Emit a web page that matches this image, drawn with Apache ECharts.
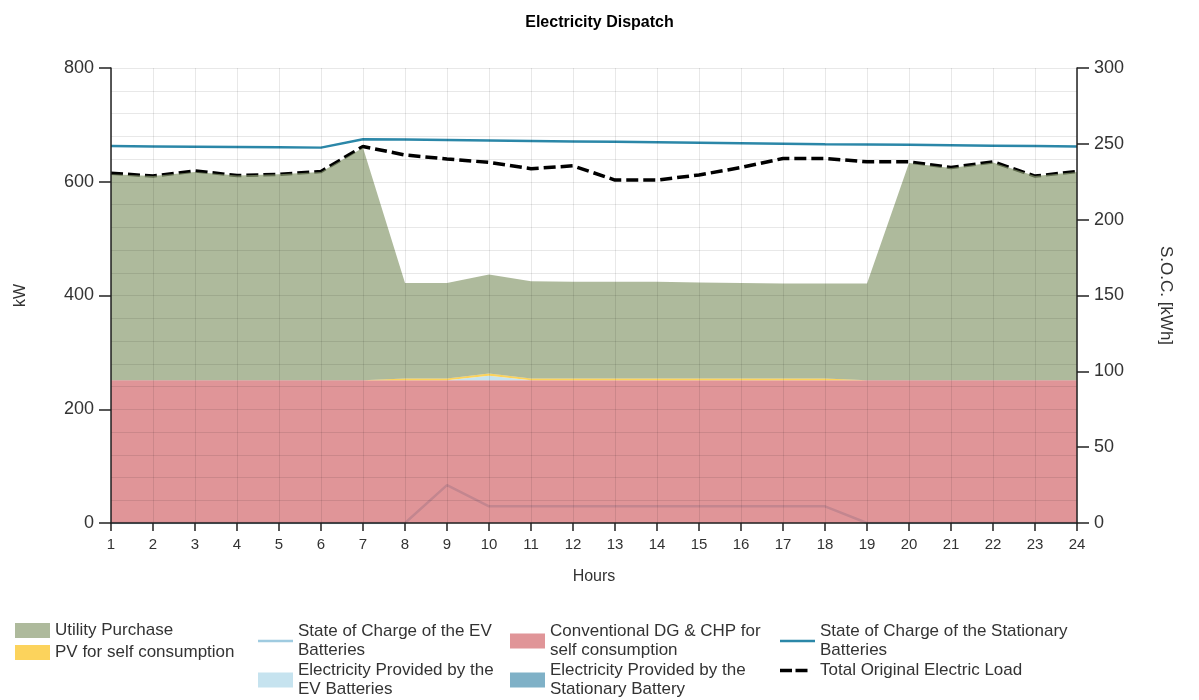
<!DOCTYPE html>
<html>
<head>
<meta charset="utf-8">
<title>Electricity Dispatch</title>
<script src="https://cdn.jsdelivr.net/npm/echarts@6/dist/echarts.min.js"></script>
<style>
  html, body { margin: 0; padding: 0; background: #ffffff; }
  #chart { width: 1199px; height: 700px; }
</style>
</head>
<body>
<div id="chart"></div>
<script>
// Hours of the day on the x axis
const hours = ['1','2','3','4','5','6','7','8','9','10','11','12','13','14','15','16','17','18','19','20','21','22','23','24'];

// Dispatch (kW), stacked from the bottom up
const dgChp = [251,251,251,251,251,251,251,251,251,251,251,251,251,251,251,251,251,251,251,251,251,251,251,251];
const evProvided = [0,0,0,0,0,0,0,0,0,8,0,0,0,0,0,0,0,0,0,0,0,0,0,0];
const pvSelf = [0,0,0,0,0,0,0,3,3,4,3,3,3,3,3,3,3,3,0,0,0,0,0,0];
const stationaryProvided = [0,0,0,0,0,0,0,0,0,0,0,0,0,0,0,0,0,0,0,0,0,0,0,0];
const utilityPurchase = [362,359,366,360,362,366,409,168,168,174,171,170,170,170,169,168,167,167,170,382,373,383,359,366];

// Total original electric load (kW)
const totalLoad = [615,610,619,611,613,618,662,647,640,634,623,628,603,603,612,625,641,641,635,635,625,635,610,618];

// States of charge (kWh, right axis)
const evSoc = [0,0,0,0,0,0,0,0,25,11,11,11,11,11,11,11,11,11,0,0,0,0,0,0];
const stationarySoc = [248.5,248.3,248.1,247.9,247.7,247.5,253,252.8,252.5,252.2,251.9,251.6,251.3,251,250.7,250.4,250.1,249.8,249.6,249.4,249.1,248.8,248.5,248.2];

const FONT = "'Liberation Sans', Arial, sans-serif";
const TXT = '#333333';

const C = {
  utility: 'rgba(139,156,114,0.7)',
  pv: '#fcd35c',
  evSocLine: '#9fcbe0',
  dg: 'rgba(211,104,108,0.7)',
  stationarySocLine: '#2b87a8',
  evProvided: '#c6e3ef',
  stationaryProvided: '#7fb1c7',
  load: '#000000'
};

function areaSeries(name, data, color) {
  return {
    name: name,
    type: 'line',
    stack: 'dispatch',
    data: data,
    symbol: 'none',
    lineStyle: { width: 0, color: color },
    itemStyle: { color: color },
    areaStyle: { color: color, opacity: 1 },
    z: 2,
    emphasis: { disabled: true }
  };
}

const lineIcon = 'path://M0,0h35v2.5h-35z';
const dashIcon = 'path://M0,0h12v3.5h-12zM15.5,0h12v3.5h-12zM34.9,0h0.1v0.1h-0.1z';

const legendText = { fontFamily: FONT, fontSize: 17, color: TXT, lineHeight: 19 };
const legendBase = {
  orient: 'vertical',
  itemWidth: 35,
  itemHeight: 15,
  itemGap: 1,
  padding: 0,
  selectedMode: false,
  textStyle: legendText,
  itemStyle: { borderWidth: 0 }
};

const chart = echarts.init(document.getElementById('chart'), null, { renderer: 'canvas' });

chart.setOption({
  animation: false,
  backgroundColor: '#ffffff',
  title: {
    text: 'Electricity Dispatch',
    left: 'center',
    top: 10,
    textStyle: { fontFamily: FONT, fontSize: 16, fontWeight: 'bold', color: '#000000' }
  },
  grid: { left: 111, right: 122, top: 68, bottom: 177 },
  legend: [
    Object.assign({}, legendBase, {
      left: 15, top: 621, itemGap: 3,
      data: [
        { name: 'Utility Purchase', icon: 'rect' },
        { name: 'PV for self consumption', icon: 'rect' }
      ]
    }),
    Object.assign({}, legendBase, {
      left: 258, top: 622,
      data: [
        { name: 'State of Charge of the EV\nBatteries', icon: lineIcon },
        { name: 'Electricity Provided by the\nEV Batteries', icon: 'rect' }
      ]
    }),
    Object.assign({}, legendBase, {
      left: 510, top: 622,
      data: [
        { name: 'Conventional DG & CHP for\nself consumption', icon: 'rect' },
        { name: 'Electricity Provided by the\nStationary Battery', icon: 'rect' }
      ]
    }),
    Object.assign({}, legendBase, {
      left: 780, top: 622,
      data: [
        { name: 'State of Charge of the Stationary\nBatteries', icon: lineIcon },
        { name: 'Total Original Electric Load', icon: dashIcon }
      ]
    })
  ],
  xAxis: {
    type: 'category',
    data: hours,
    boundaryGap: false,
    z: 3,
    name: 'Hours',
    nameLocation: 'middle',
    nameGap: 46,
    nameTextStyle: { fontFamily: FONT, fontSize: 16, color: TXT },
    axisLine: { lineStyle: { color: '#222222', width: 1.5 } },
    axisTick: { show: true, length: 8, alignWithLabel: true, lineStyle: { color: '#222222', width: 1.5 } },
    axisLabel: { interval: 0, margin: 14, fontFamily: FONT, fontSize: 15, color: TXT },
    splitLine: { show: true, interval: 0, lineStyle: { color: 'rgba(0,0,0,0.09)', width: 1 } }
  },
  yAxis: [
    {
      type: 'value',
      min: 0, max: 800, interval: 200,
      position: 'left',
      z: 3,
      name: 'kW',
      nameLocation: 'middle',
      nameGap: 82,
      nameTextStyle: { fontFamily: FONT, fontSize: 16, color: TXT },
      axisLine: { show: true, lineStyle: { color: '#222222', width: 1.5 } },
      axisTick: { show: true, length: 12, lineStyle: { color: '#222222', width: 1.5 } },
      axisLabel: { margin: 17, fontFamily: FONT, fontSize: 18, color: TXT },
      splitLine: { show: true, lineStyle: { color: 'rgba(0,0,0,0.09)', width: 1 } },
      minorTick: { show: false, splitNumber: 5 },
      minorSplitLine: { show: true, lineStyle: { color: 'rgba(0,0,0,0.09)', width: 1 } }
    },
    {
      type: 'value',
      min: 0, max: 300, interval: 50,
      position: 'right',
      z: 3,
      name: 'S.O.C. [kWh]',
      nameLocation: 'middle',
      nameRotate: -90,
      nameGap: 80,
      nameTextStyle: { fontFamily: FONT, fontSize: 17, color: TXT },
      axisLine: { show: true, lineStyle: { color: '#222222', width: 1.5 } },
      axisTick: { show: true, length: 12, lineStyle: { color: '#222222', width: 1.5 } },
      axisLabel: { margin: 17, fontFamily: FONT, fontSize: 18, color: TXT },
      splitLine: { show: false }
    }
  ],
  series: [
    // plain lines sit underneath the translucent stacked areas
    {
      name: 'State of Charge of the EV\nBatteries',
      type: 'line',
      yAxisIndex: 1,
      data: evSoc,
      symbol: 'none',
      lineStyle: { width: 2.5, color: C.evSocLine },
      itemStyle: { color: C.evSocLine },
      z: 1,
      emphasis: { disabled: true }
    },
    {
      name: 'State of Charge of the Stationary\nBatteries',
      type: 'line',
      yAxisIndex: 1,
      data: stationarySoc,
      symbol: 'none',
      lineStyle: { width: 2.5, color: C.stationarySocLine },
      itemStyle: { color: C.stationarySocLine },
      z: 1,
      emphasis: { disabled: true }
    },
    {
      name: 'Total Original Electric Load',
      type: 'line',
      data: totalLoad,
      symbol: 'none',
      lineStyle: { width: 3.5, color: C.load, type: [12, 5] },
      itemStyle: { color: C.load },
      z: 1,
      emphasis: { disabled: true }
    },
    areaSeries('Conventional DG & CHP for\nself consumption', dgChp, C.dg),
    areaSeries('Electricity Provided by the\nEV Batteries', evProvided, C.evProvided),
    areaSeries('PV for self consumption', pvSelf, C.pv),
    areaSeries('Electricity Provided by the\nStationary Battery', stationaryProvided, C.stationaryProvided),
    areaSeries('Utility Purchase', utilityPurchase, C.utility)
  ]
});
</script>
</body>
</html>
